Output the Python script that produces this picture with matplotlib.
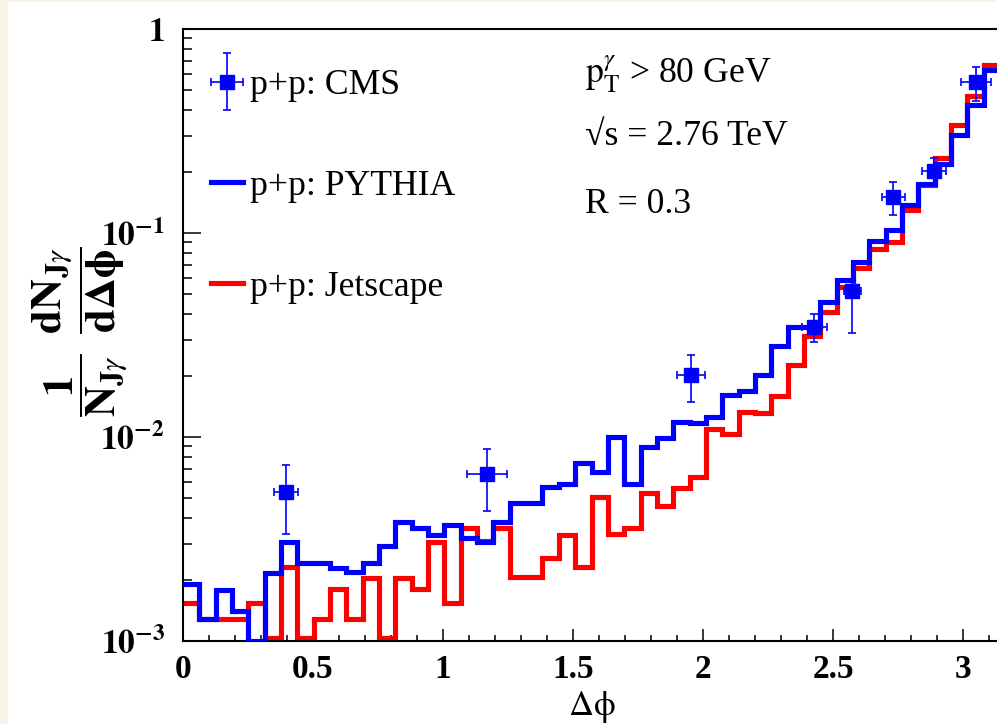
import numpy as np
import matplotlib.pyplot as plt
from matplotlib.lines import Line2D
from matplotlib.legend_handler import HandlerErrorbar
from matplotlib.container import ErrorbarContainer
from matplotlib.ticker import LogLocator, MultipleLocator, NullFormatter

plt.rcParams['font.family'] = ['Liberation Serif', 'DejaVu Serif']
plt.rcParams['mathtext.fontset'] = 'stix'

# %%
# 50 bins over [0, pi]
n_bins = 50
edges = np.linspace(0, np.pi, n_bins + 1)

pythia = [1.90e-3, 1.28e-3, 1.78e-3, 1.40e-3, 1.005e-3, 2.16e-3, 3.07e-3, 2.42e-3, 2.42e-3, 2.29e-3,
          2.17e-3, 2.42e-3, 2.93e-3, 3.82e-3, 3.57e-3, 3.32e-3, 3.70e-3, 3.19e-3, 3.07e-3, 3.84e-3,
          4.73e-3, 4.73e-3, 5.71e-3, 5.86e-3, 7.43e-3, 6.76e-3, 1.00e-2, 5.86e-3, 8.97e-3, 9.85e-3,
          1.19e-2, 1.175e-2, 1.26e-2, 1.60e-2, 1.69e-2, 2.01e-2, 2.80e-2, 3.45e-2, 3.45e-2, 4.60e-2,
          5.88e-2, 7.23e-2, 9.16e-2, 0.1035, 0.137, 0.174, 0.218, 0.302, 0.424, 0.629]

jetscape = [1.53e-3, 1.28e-3, 1.28e-3, 1.28e-3, 1.53e-3, 1.03e-3, 2.31e-3, 1.03e-3, 1.28e-3, 1.79e-3,
            1.28e-3, 2.04e-3, 1.03e-3, 2.04e-3, 1.79e-3, 3.07e-3, 1.53e-3, 3.57e-3, 3.10e-3, 3.57e-3,
            2.05e-3, 2.05e-3, 2.56e-3, 3.31e-3, 2.30e-3, 5.10e-3, 3.33e-3, 3.57e-3, 5.33e-3, 4.61e-3,
            5.60e-3, 6.39e-3, 1.09e-2, 1.04e-2, 1.33e-2, 1.31e-2, 1.58e-2, 2.25e-2, 3.14e-2, 4.11e-2,
            5.45e-2, 6.71e-2, 8.32e-2, 9.06e-2, 0.130, 0.172, 0.234, 0.338, 0.469, 0.666]

cms_x = np.array([0.396, 1.169, 1.954, 2.428, 2.574, 2.732, 2.888, 3.049])
cms_y = np.array([5.37e-3, 6.59e-3, 2.01e-2, 3.47e-2, 5.21e-2, 0.1506, 0.201, 0.552])
cms_hi = np.array([7.29e-3, 8.71e-3, 2.52e-2, 4.00e-2, 5.42e-2, 0.178, 0.232, 0.651])
cms_lo = np.array([3.34e-3, 4.35e-3, 1.49e-2, 2.93e-2, 3.22e-2, 0.122, 0.176, 0.443])
cms_xerr = np.array([0.047, 0.078, 0.054, 0.047, 0.033, 0.045, 0.046, 0.058])

x_ticks = [0, 0.5, 1, 1.5, 2, 2.5, 3]
x_tick_labels = ['0', '0.5', '1', '1.5', '2', '2.5', '3']
y_ticks = [1e-3, 1e-2, 1e-1, 1]
y_tick_labels = [r'$\mathbf{10^{-3}}$', r'$\mathbf{10^{-2}}$', r'$\mathbf{10^{-1}}$', r'$\mathbf{1}$']

# %%
W, H = 997, 724
fig = plt.figure(figsize=(W / 100, H / 100), dpi=100)

# cream page margin on the left and top
cream = '#f7f4e6'
for rect in ([0, 0, 8 / W, 1], [0, 1 - 2 / H, 1, 2 / H]):
    strip = fig.add_axes(rect, facecolor=cream, zorder=0)
    strip.set_xticks([])
    strip.set_yticks([])
    for sp in strip.spines.values():
        sp.set_visible(False)

ax = fig.add_axes([183 / W, (H - 641) / H, (1000 - 183) / W, (641 - 29) / H])
ax.set_xlim(0, np.pi)
ax.set_yscale('log')
ax.set_ylim(1e-3, 1)

# histogram outlines (steps), PYTHIA drawn on top
lw_hist = 3.7
ax.plot(edges, jetscape + jetscape[-1:], drawstyle='steps-post', color='#ff0000', lw=lw_hist,
        solid_joinstyle='miter', zorder=2)
ax.plot(edges, pythia + pythia[-1:], drawstyle='steps-post', color='#0000ff', lw=lw_hist,
        solid_joinstyle='miter', zorder=3)

cms = ax.errorbar(cms_x, cms_y, xerr=cms_xerr, yerr=[cms_y - cms_lo, cms_hi - cms_y],
                  fmt='s', color='#0000ff', ms=9.4, elinewidth=1.2, capsize=3, capthick=1.2, zorder=5)

for sp in ax.spines.values():
    sp.set_linewidth(1.5)
ax.spines['right'].set_visible(False)

ax.set_xticks(x_ticks, labels=x_tick_labels)
ax.xaxis.set_minor_locator(MultipleLocator(0.1))
ax.set_yticks(y_ticks, labels=y_tick_labels)
ax.yaxis.set_minor_locator(LogLocator(base=10, subs=np.arange(2, 10)))
ax.yaxis.set_minor_formatter(NullFormatter())
ax.tick_params(axis='x', which='major', direction='in', length=8.6, width=1.1, top=False, labelsize=24, pad=9)
ax.tick_params(axis='x', which='minor', direction='in', length=4.3, width=1.1, top=False)
ax.tick_params(axis='y', which='major', direction='in', length=13, width=1.1, right=False, labelsize=24, pad=13)
ax.tick_params(axis='y', which='minor', direction='in', length=6.5, width=1.1, right=False)
for lbl in ax.get_xticklabels():
    lbl.set_fontweight('bold')

ax.set_xlabel(r'$\mathrm{\Delta\phi}$', fontsize=25, labelpad=3)

fig.text(80 / W, 1 - 332 / H,
         r'$\dfrac{\mathbf{1}}{\mathbf{N}_{\mathbf{J}\gamma}}\;\;\dfrac{\mathbf{dN}_{\mathbf{J}\gamma}}{\mathbf{d\Delta\phi}}$',
         rotation=90, ha='center', va='center', fontsize=31)

# legend
h_py = Line2D([], [], color='#0000ff', lw=lw_hist)
h_js = Line2D([], [], color='#ff0000', lw=lw_hist)
leg = ax.legend([cms, h_py, h_js], ['p+p: CMS', 'p+p: PYTHIA', 'p+p: Jetscape'],
                loc='upper left', bbox_to_anchor=(211 / W, 1 - 69 / H), bbox_transform=fig.transFigure,
                frameon=False, fontsize=25.7, handlelength=0.9, handletextpad=0.2,
                labelspacing=1.9, borderpad=0, borderaxespad=0,
                handler_map={ErrorbarContainer: HandlerErrorbar(xerr_size=0.45, yerr_size=0.8)})

fs = 25.7
fig.text(585 / W, 1 - 83 / H, r'$\mathrm{p}_{\mathrm{T}}^{\gamma}$ > 80 GeV', fontsize=fs, va='baseline')
fig.text(585 / W, 1 - 145 / H, '√s = 2.76 TeV', fontsize=fs, va='baseline')
fig.text(585 / W, 1 - 213 / H, 'R = 0.3', fontsize=fs, va='baseline')

fig.savefig('out.png', dpi=100)
